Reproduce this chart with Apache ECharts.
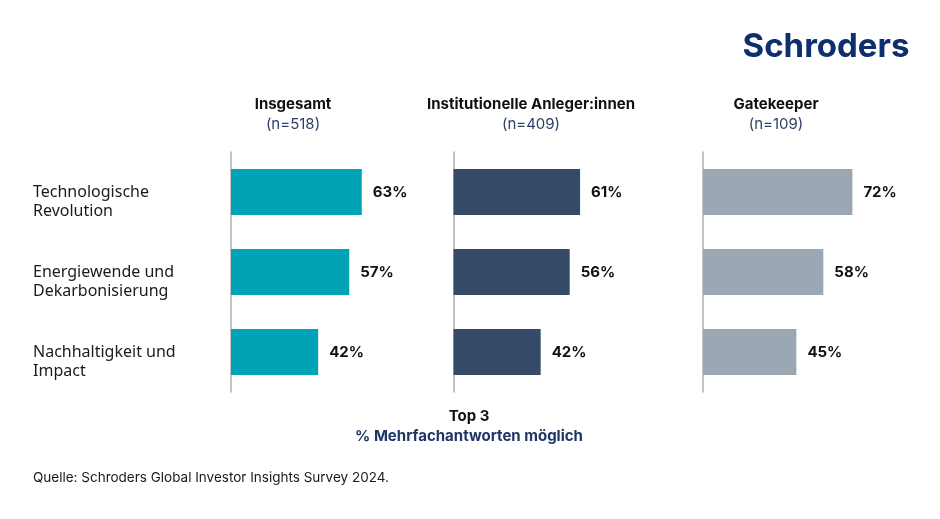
<!DOCTYPE html>
<html>
<head>
<meta charset="utf-8">
<script src="https://cdn.jsdelivr.net/npm/echarts@6/dist/echarts.min.js"></script>
<style>html,body{margin:0;padding:0;background:#fff;}#c{width:940px;height:519px;}</style>
</head>
<body>
<div id="c"></div>
<script>
const categories = ['Technologische\nRevolution', 'Energiewende und\nDekarbonisierung', 'Nachhaltigkeit und\nImpact'];
const groupTitles = ['Insgesamt', 'Institutionelle Anleger:innen', 'Gatekeeper'];
const groupN = ['(n=518)', '(n=409)', '(n=109)'];
const insgesamt = [63, 57, 42];
const institutionell = [61, 56, 42];
const gatekeeper = [72, 58, 45];
const seriesData = [insgesamt, institutionell, gatekeeper];
const colors = ['#00A3B5', '#354A67', '#9BA8B3'];

const gridLefts = [231, 453.5, 703];
const headerCenters = [293, 531, 776];
const BOLD = 'Inter, "Noto Sans", sans-serif';

const chart = echarts.init(document.getElementById('c'), null, {renderer: 'canvas'});

const grids = [], xAxes = [], yAxes = [], series = [], graphics = [];
for (let i = 0; i < 3; i++) {
  grids.push({left: gridLefts[i], top: 152, width: 207.5, height: 240, containLabel: false});
  xAxes.push({type: 'value', gridIndex: i, min: 0, max: 100, show: false});
  yAxes.push({
    type: 'category', gridIndex: i, data: categories, inverse: true,
    axisLine: {show: true, lineStyle: {color: '#b0b0b0', width: 1.5}},
    axisTick: {show: false},
    axisLabel: i === 0 ? {
      show: true, align: 'left', margin: 198,
      formatter: v => '\n' + v,
      fontFamily: '"Noto Sans", sans-serif', fontSize: 16, lineHeight: 19, color: '#1a1a1a'
    } : {show: false}
  });
  series.push({
    type: 'bar', xAxisIndex: i, yAxisIndex: i, data: seriesData[i], barWidth: 46,
    itemStyle: {color: colors[i]},
    label: {show: true, position: 'right', distance: 11, formatter: '{c}%',
      fontFamily: BOLD, fontWeight: 700, fontSize: 15, color: '#111'},
    silent: true
  });
  graphics.push({type: 'text', x: headerCenters[i], y: 104,
    style: {text: groupTitles[i], textAlign: 'center', textVerticalAlign: 'middle',
      font: '700 15px ' + BOLD, fill: '#111'}});
  graphics.push({type: 'text', x: headerCenters[i], y: 124,
    style: {text: groupN[i], textAlign: 'center', textVerticalAlign: 'middle',
      font: '400 15px ' + BOLD, fill: '#2C3F66'}});
}

graphics.push({type: 'text', x: 826, y: 47,
  style: {text: 'Schroders', textAlign: 'center', textVerticalAlign: 'middle',
    font: '700 33px ' + BOLD, fill: '#0E2F6E'}});
graphics.push({type: 'text', x: 469, y: 416,
  style: {text: 'Top 3', textAlign: 'center', textVerticalAlign: 'middle',
    font: '700 15px ' + BOLD, fill: '#111'}});
graphics.push({type: 'text', x: 469, y: 436,
  style: {text: '% Mehrfachantworten möglich', textAlign: 'center', textVerticalAlign: 'middle',
    font: '700 15px ' + BOLD, fill: '#1F3566'}});
graphics.push({type: 'text', x: 33, y: 478,
  style: {text: 'Quelle: Schroders Global Investor Insights Survey 2024.', textAlign: 'left', textVerticalAlign: 'middle',
    font: '400 13.5px ' + BOLD, fill: '#1a1a1a'}});

chart.setOption({
  animation: false,
  backgroundColor: '#fff',
  grid: grids, xAxis: xAxes, yAxis: yAxes, series: series, graphic: graphics
});
</script>
</body>
</html>
